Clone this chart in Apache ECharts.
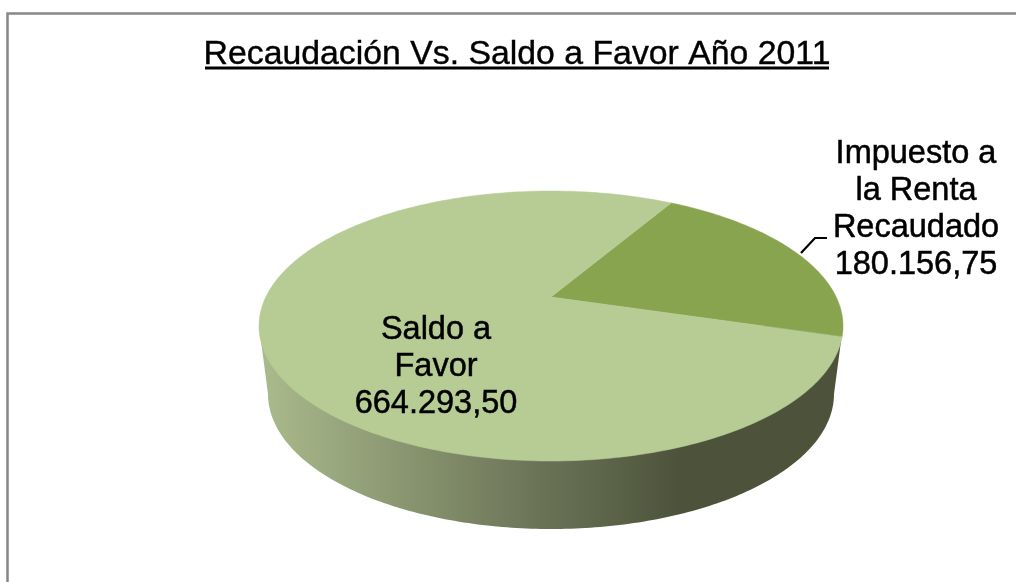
<!DOCTYPE html>
<html>
<head>
<meta charset="utf-8">
<style>
  html, body { margin: 0; padding: 0; background: #fff; }
  #chart { width: 1016px; height: 582px; }
</style>
<script src="https://cdn.jsdelivr.net/npm/echarts@6/dist/echarts.min.js"></script>
</head>
<body>
<div id="chart"></div>
<script>
  var sliceNames = ['Impuesto a\nla Renta\nRecaudado', 'Saldo a\nFavor']
  var sliceValues = [180156.75, 664293.5]
  var sliceColors = ['#88a44f', '#b7cc94']
  var titleText = 'Recaudación Vs. Saldo a Favor Año 2011'

  // layout of the tilted disc, in pixels
  var FONT = '"Liberation Sans", Arial, sans-serif'
  var CX = 551, CY = 326, RX = 292, RY = 135
  var APEX_RISE = 29
  var DEPTH = 68, BOTTOM_RX = 283
  var START_DEG = -60
  var labelSpots = [[916, 210], [436, 367]]

  var total = sliceValues[0] + sliceValues[1]
  var K = APEX_RISE / RY
  var A = RX * Math.sqrt(1 - K * K)

  // a point of the flat unit disc seen in perspective: the centre lands above the ellipse centre
  function project(u, v) {
    var w = 1 - K * v
    return [CX + A * u / w, CY + RY * (v - K) / w]
  }

  function formatValue(v) {
    var parts = v.toFixed(2).split('.')
    return parts[0].replace(/\B(?=(\d{3})+$)/g, '.') + ',' + parts[1]
  }

  function renderSlice(params, api) {
    var i = params.dataIndex
    var before = 0
    for (var j = 0; j < i; j++) before += sliceValues[j]
    var a0 = START_DEG + before / total * 360
    var a1 = a0 + api.value(0) / total * 360
    var pts = [project(0, 0)]
    var steps = Math.ceil(a1 - a0)
    for (var s = 0; s <= steps; s++) {
      var t = (a0 + (a1 - a0) * s / steps) * Math.PI / 180
      pts.push(project(Math.cos(t), Math.sin(t)))
    }
    return {
      type: 'group',
      children: [{
        type: 'polygon',
        shape: { points: pts },
        style: { fill: sliceColors[i], stroke: sliceColors[i], lineWidth: 0.5 }
      }, {
        type: 'text',
        z2: 10,
        style: {
          x: labelSpots[i][0],
          y: labelSpots[i][1],
          text: sliceNames[i] + '\n' + formatValue(api.value(0)),
          font: '32.5px ' + FONT,
          fill: '#000',
          stroke: '#000',
          lineWidth: 0.5,
          align: 'center',
          verticalAlign: 'middle',
          lineHeight: 37
        }
      }]
    }
  }

  function renderWall() {
    var pts = [[CX - RX, CY]]
    for (var d = 180; d >= 0; d--) {
      var t = d * Math.PI / 180
      pts.push([CX + BOTTOM_RX * Math.cos(t), CY + DEPTH + RY * Math.sin(t)])
    }
    pts.push([CX + RX, CY])
    return {
      type: 'polygon',
      shape: { points: pts },
      style: {
        fill: new echarts.graphic.LinearGradient(0, 0, 1, 0, [
          { offset: 0, color: '#aabb8c' },
          { offset: 0.48, color: '#6b7357' },
          { offset: 0.72, color: '#4c533a' },
          { offset: 1, color: '#4c533a' }
        ])
      }
    }
  }

  var chart = echarts.init(document.getElementById('chart'))
  chart.setOption({
    animation: false,
    backgroundColor: '#fff',
    title: {
      text: titleText,
      left: 512,
      top: 33,
      textAlign: 'center',
      textStyle: {
        fontFamily: FONT,
        fontSize: 33.8,
        fontWeight: 'normal',
        color: '#000',
        textBorderColor: '#000',
        textBorderWidth: 0.4
      }
    },
    graphic: [{
      type: 'polyline',
      silent: true,
      shape: { points: [[7.5, 582], [7.5, 13.5], [1016, 13.5]] },
      style: { stroke: '#868686', lineWidth: 2.5, fill: null }
    }, {
      type: 'line',
      silent: true,
      shape: { x1: 205, y1: 68, x2: 829, y2: 68 },
      style: { stroke: '#000', lineWidth: 3 }
    }, {
      type: 'polyline',
      silent: true,
      z: 5,
      shape: { points: [[801, 253], [815, 238], [827, 238]] },
      style: { stroke: '#000', lineWidth: 2.2, fill: null }
    }],
    series: [{
      type: 'custom',
      coordinateSystem: 'none',
      silent: true,
      data: [[total]],
      renderItem: renderWall
    }, {
      type: 'custom',
      coordinateSystem: 'none',
      silent: true,
      data: sliceValues.map(function (v) { return [v] }),
      renderItem: renderSlice
    }]
  })
</script>
</body>
</html>
